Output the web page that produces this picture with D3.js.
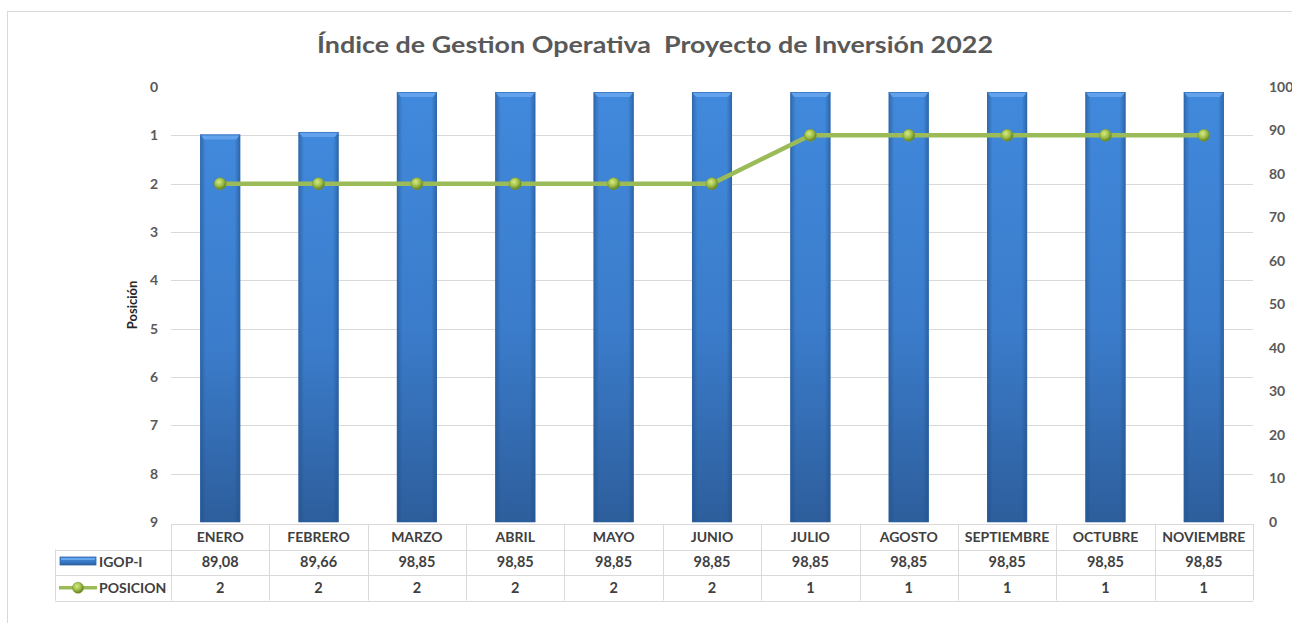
<!DOCTYPE html>
<html><head><meta charset="utf-8">
<script src="https://cdn.jsdelivr.net/npm/d3@7"></script>
<style>
html,body{margin:0;padding:0;background:#fff;}
svg{display:block;font-family:Lato,"Open Sans",sans-serif;}
</style></head>
<body>
<svg id="chart" width="1292" height="623"></svg>
<script>
const months = ["ENERO","FEBRERO","MARZO","ABRIL","MAYO","JUNIO","JULIO","AGOSTO","SEPTIEMBRE","OCTUBRE","NOVIEMBRE"];
const igop = [89.08, 89.66, 98.85, 98.85, 98.85, 98.85, 98.85, 98.85, 98.85, 98.85, 98.85];
const posicion = [2, 2, 2, 2, 2, 2, 1, 1, 1, 1, 1];
const leftTicks = [0,1,2,3,4,5,6,7,8,9];
const rightTicks = [0,10,20,30,40,50,60,70,80,90,100];
const gridTicks = [1,2,3,4,5,6,7,8];
const titleText = "Índice de Gestion Operativa  Proyecto de Inversión 2022";
const seriesNames = ["IGOP-I","POSICION"];

const svg = d3.select("#chart");
const X0 = 171, X1 = 1253, Y0 = 87, Y1 = 522;

const x = d3.scaleBand().domain(months).range([X0, X1]).paddingInner(0.593).paddingOuter(0.2965);
const xCell = d3.scaleBand().domain(months).range([X0, X1]);
const yL = d3.scaleLinear().domain([0, 9]).range([Y0, Y1]);
const yR = d3.scaleLinear().domain([0, 100]).range([Y1, Y0]);

const defs = svg.append("defs");
const bg = defs.append("linearGradient").attr("id","barV").attr("x1",0).attr("y1",0).attr("x2",0).attr("y2",1);
bg.append("stop").attr("offset","0%").attr("stop-color","#4189dc");
bg.append("stop").attr("offset","55%").attr("stop-color","#3b7ccb");
bg.append("stop").attr("offset","100%").attr("stop-color","#2d5e9c");
const bh = defs.append("linearGradient").attr("id","barH").attr("x1",0).attr("y1",0).attr("x2",1).attr("y2",0);
bh.append("stop").attr("offset","0%").attr("stop-color","#1f4a80").attr("stop-opacity",0.5);
bh.append("stop").attr("offset","14%").attr("stop-color","#1f4a80").attr("stop-opacity",0);
bh.append("stop").attr("offset","86%").attr("stop-color","#1f4a80").attr("stop-opacity",0);
bh.append("stop").attr("offset","100%").attr("stop-color","#1f4a80").attr("stop-opacity",0.55);
const mg = defs.append("radialGradient").attr("id","mk").attr("cx","40%").attr("cy","35%").attr("r","65%");
mg.append("stop").attr("offset","0%").attr("stop-color","#d6ec86");
mg.append("stop").attr("offset","55%").attr("stop-color","#9fbf48");
mg.append("stop").attr("offset","100%").attr("stop-color","#5f7d22");

// outer frame
svg.append("rect").attr("x",7.5).attr("y",11.5).attr("width",1400).attr("height",700)
  .attr("fill","none").attr("stroke","#d9d9d9").attr("stroke-width",1);

// title
const title = svg.append("text").attr("x",655).attr("y",53).attr("text-anchor","middle")
  .attr("font-size",23).attr("font-weight","bold").attr("fill","#595959")
  .style("white-space","pre").attr("xml:space","preserve").text(titleText);
const tl = title.node().getComputedTextLength();
if (tl > 0) title.attr("textLength",676).attr("lengthAdjust","spacingAndGlyphs");

// gridlines
svg.append("g").selectAll("line").data(gridTicks).join("line")
  .attr("x1",X0).attr("x2",X1).attr("y1",d=>Math.round(yL(d))+0.5).attr("y2",d=>Math.round(yL(d))+0.5)
  .attr("stroke","#d9d9d9").attr("stroke-width",1);

// left axis labels
const axL = svg.append("g").attr("transform",`translate(${X0-13},0)`)
  .call(d3.axisLeft(yL).tickValues(leftTicks).tickSize(0).tickPadding(0));
axL.select(".domain").remove();
axL.selectAll("text").attr("font-size",14).attr("font-weight","bold").attr("fill","#595959")
  .attr("font-family","Lato,sans-serif").attr("dy","0.32em");

// right axis labels
const axR = svg.append("g").attr("transform",`translate(${X1+16},0)`)
  .call(d3.axisRight(yR).tickValues(rightTicks).tickSize(0).tickPadding(0));
axR.select(".domain").remove();
axR.selectAll("text").attr("font-size",14).attr("font-weight","bold").attr("fill","#595959")
  .attr("font-family","Lato,sans-serif").attr("dy","0.32em");

// Posición label
svg.append("text").attr("transform","translate(137,305) rotate(-90)").attr("text-anchor","middle")
  .attr("font-size",13).attr("font-weight","bold").attr("fill","#262626").text("Posición");

// bars
const bars = svg.append("g").selectAll("g").data(months).join("g");
bars.append("rect").attr("x",d=>x(d)).attr("width",x.bandwidth())
  .attr("y",(d,i)=>yR(igop[i])).attr("height",(d,i)=>Y1-yR(igop[i])).attr("fill","url(#barV)");
bars.append("rect").attr("x",d=>x(d)).attr("width",x.bandwidth())
  .attr("y",(d,i)=>yR(igop[i])).attr("height",(d,i)=>Y1-yR(igop[i])).attr("fill","url(#barH)");
bars.append("path").attr("d",(d,i)=>{
  const bx=x(d), bw=x.bandwidth(), by=yR(igop[i]);
  return `M${bx},${by}L${bx+bw},${by}L${bx+bw-4},${by+5}L${bx+4},${by+5}Z`;
}).attr("fill","#62a2ec");
bars.append("rect").attr("x",d=>x(d)+0.5).attr("width",x.bandwidth()-1)
  .attr("y",(d,i)=>yR(igop[i])+0.5).attr("height",(d,i)=>Y1-yR(igop[i])-0.5)
  .attr("fill","none").attr("stroke","#2f66a8").attr("stroke-width",1).attr("stroke-opacity",0.6);

// line
const cx = d => x(d) + x.bandwidth()/2;
const line = d3.line().x((d,i)=>cx(months[i])).y(d=>yL(d));
svg.append("path").datum(posicion).attr("d",line).attr("fill","none")
  .attr("stroke","#9bbb59").attr("stroke-width",4.5).attr("stroke-linejoin","round");
svg.append("g").selectAll("circle").data(posicion).join("circle")
  .attr("cx",(d,i)=>cx(months[i])).attr("cy",d=>yL(d)).attr("r",6)
  .attr("fill","url(#mk)").attr("stroke","#7a9a34").attr("stroke-width",0.6);

// data table
const T0 = 524, RH = 25.5, LX = 55;
const tg = svg.append("g");
const gridC = "#d9d9d9";
tg.append("line").attr("x1",X0).attr("x2",X1).attr("y1",T0+0.5).attr("y2",T0+0.5).attr("stroke",gridC);
[1,2,3].forEach(r=>{
  tg.append("line").attr("x1",LX).attr("x2",X1).attr("y1",Math.round(T0+r*RH)+0.5).attr("y2",Math.round(T0+r*RH)+0.5).attr("stroke",gridC);
});
const vx = months.map(m=>xCell(m)).concat([X1]);
tg.selectAll("line.v").data(vx).join("line").attr("class","v")
  .attr("x1",d=>Math.round(d)+0.5).attr("x2",d=>Math.round(d)+0.5).attr("y1",T0).attr("y2",T0+3*RH).attr("stroke",gridC);
tg.append("line").attr("x1",LX+0.5).attr("x2",LX+0.5).attr("y1",T0+RH).attr("y2",T0+3*RH).attr("stroke",gridC);

const fmt = v => v.toFixed(2).replace(".",",");
const cellText = (row, vals) => tg.append("g").selectAll("text").data(vals).join("text")
  .attr("x",(d,i)=>xCell(months[i])+xCell.bandwidth()/2).attr("y",T0+row*RH+RH/2).attr("dy","0.35em")
  .attr("text-anchor","middle").attr("font-size",14.5).attr("font-weight","bold").attr("fill","#404040")
  .text(d=>d);
cellText(0, months).attr("font-size",14);
cellText(1, igop.map(fmt));
cellText(2, posicion.map(String));

// legend keys
tg.append("rect").attr("x",60).attr("y",557).attr("width",36).attr("height",8).attr("fill","url(#barV)").attr("stroke","#2f66a8").attr("stroke-width",0.8);
tg.append("rect").attr("x",61).attr("y",558).attr("width",34).attr("height",2).attr("fill","#6aa6ee");
tg.append("line").attr("x1",59).attr("x2",97).attr("y1",T0+2.5*RH).attr("y2",T0+2.5*RH).attr("stroke","#9bbb59").attr("stroke-width",3.5);
tg.append("circle").attr("cx",78).attr("cy",T0+2.5*RH).attr("r",5.5).attr("fill","url(#mk)").attr("stroke","#7a9a34").attr("stroke-width",0.6);
tg.selectAll("text.leg").data(seriesNames).join("text").attr("class","leg")
  .attr("x",99).attr("y",(d,i)=>T0+(i+1.5)*RH).attr("dy","0.35em")
  .attr("font-size",14).attr("font-weight","bold").attr("fill","#404040").text(d=>d);
</script>
</body></html>
